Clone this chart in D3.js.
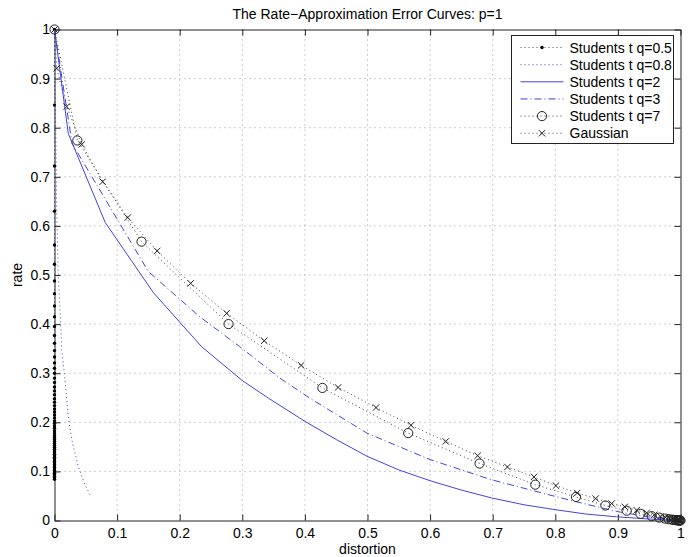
<!DOCTYPE html>
<html>
<head>
<meta charset="utf-8">
<script src="https://cdn.jsdelivr.net/npm/d3@7"></script>
<style>
  body { margin: 0; background: #fff; }
  svg text { font-family: "Liberation Sans", Arial, sans-serif; font-size: 14px; fill: #000; }
</style>
</head>
<body>
<svg id="chart"></svg>
<script>
// tick values for both axes
const xTicks = [0, 0.1, 0.2, 0.3, 0.4, 0.5, 0.6, 0.7, 0.8, 0.9, 1];
const yTicks = [0, 0.1, 0.2, 0.3, 0.4, 0.5, 0.6, 0.7, 0.8, 0.9, 1];

const seriesNames = ['Students t q=0.5', 'Students t q=0.8', 'Students t q=2',
  'Students t q=3', 'Students t q=7', 'Gaussian'];

// [distortion, rate]
const q05Points = [[0, 1], [0, 0.846], [0, 0.722], [0, 0.630], [0, 0.561], [0, 0.522], [0, 0.488],
  [0, 0.462], [0, 0.437], [0, 0.415], [0, 0.395], [0, 0.377], [0, 0.361], [0, 0.346], [0, 0.333],
  [0, 0.321], [0, 0.310], [0, 0.300], [0, 0.290], [0, 0.281], [0, 0.272], [0, 0.264], [0, 0.256],
  [0, 0.248], [0, 0.241], [0, 0.234], [0, 0.227], [0, 0.221], [0, 0.215], [0, 0.209], [0, 0.203],
  [0, 0.198], [0, 0.193], [0, 0.188], [0, 0.183], [0, 0.178], [0, 0.173], [0, 0.169], [0, 0.165],
  [0, 0.161], [0, 0.157], [0, 0.153], [0, 0.149], [0, 0.145], [0, 0.142], [0, 0.138], [0, 0.135],
  [0, 0.132], [0, 0.129], [0, 0.126], [0, 0.123], [0, 0.120], [0, 0.117], [0, 0.114], [0, 0.111],
  [0, 0.108], [0, 0.105], [0, 0.102], [0, 0.099], [0, 0.096], [0, 0.093], [0, 0.090], [0, 0.087],
  [0, 0.084]];

const q08Points = [[0, 1], [0.001, 0.9], [0.002, 0.8], [0.003, 0.7], [0.0035, 0.63], [0.006, 0.5],
  [0.0099, 0.4], [0.0115, 0.348], [0.0168, 0.287], [0.022, 0.212], [0.0275, 0.165], [0.038, 0.11],
  [0.048, 0.075], [0.057, 0.052]];

const q2Points = [[0, 1], [0.022, 0.788], [0.081, 0.607], [0.158, 0.464], [0.235, 0.354],
  [0.30, 0.285], [0.342, 0.249], [0.40, 0.202], [0.45, 0.165], [0.499, 0.131], [0.55, 0.103],
  [0.60, 0.081], [0.65, 0.062], [0.698, 0.046], [0.75, 0.032], [0.80, 0.022], [0.85, 0.013],
  [0.898, 0.0075], [0.95, 0.003], [1, 0]];

const q3Points = [[0, 1], [0.028, 0.768], [0.15, 0.507], [0.232, 0.415], [0.296, 0.354],
  [0.36, 0.29], [0.408, 0.249], [0.499, 0.178], [0.6, 0.124], [0.698, 0.083], [0.80, 0.049],
  [0.85, 0.033], [0.9, 0.018], [0.95, 0.007], [1, 0]];

const q7Points = [[0, 1], [0.0365, 0.774], [0.139, 0.568], [0.278, 0.40], [0.428, 0.27],
  [0.565, 0.178], [0.679, 0.116], [0.768, 0.073], [0.833, 0.048], [0.88, 0.0305], [0.914, 0.020],
  [0.936, 0.0136], [0.954, 0.0088], [0.966, 0.0058], [0.975, 0.0038], [0.981, 0.0026],
  [0.986, 0.0018], [0.989, 0.0012], [0.992, 0.0008], [0.994, 0.0005], [0.996, 0.0003],
  [0.997, 0.0002], [0.998, 0.0001], [0.999, 0.00005], [1, 0]];

const gaussPoints = [[0, 1], [0.0035, 0.921], [0.0195, 0.843], [0.0435, 0.766], [0.077, 0.69],
  [0.117, 0.617], [0.164, 0.549], [0.2175, 0.483], [0.275, 0.422], [0.335, 0.366], [0.394, 0.316],
  [0.453, 0.271], [0.5136, 0.230], [0.5695, 0.194], [0.625, 0.161], [0.676, 0.132], [0.7235, 0.109],
  [0.766, 0.0888], [0.801, 0.071], [0.835, 0.056], [0.8645, 0.0447], [0.89, 0.0345], [0.911, 0.0278],
  [0.93, 0.021], [0.946, 0.0156], [0.958, 0.0115], [0.968, 0.0085], [0.976, 0.006], [0.982, 0.0043],
  [0.987, 0.003], [0.991, 0.002], [0.994, 0.0013], [0.996, 0.0008], [0.998, 0.0004], [1, 0]];

const seriesPoints = [q05Points, q08Points, q2Points, q3Points, q7Points, gaussPoints];

class RateChart {

  constructor(_config) {
    this.config = {
      parentElement: _config.parentElement,
      containerWidth: _config.containerWidth || 692,
      containerHeight: _config.containerHeight || 557,
    };
    this.config.margin = _config.margin || { top: 29.5, right: 11.5, bottom: 36.5, left: 54.5 };

    this.initVis();
  }

  initVis() {
    let vis = this;

    vis.width = vis.config.containerWidth - vis.config.margin.left - vis.config.margin.right;
    vis.height = vis.config.containerHeight - vis.config.margin.top - vis.config.margin.bottom;

    vis.xScale = d3.scaleLinear().domain([0, 1]).range([0, vis.width]);
    vis.yScale = d3.scaleLinear().domain([0, 1]).range([vis.height, 0]);

    vis.line = d3.line()
      .x(d => vis.xScale(d[0]))
      .y(d => vis.yScale(d[1]));

    // look of every series, same order as seriesNames
    const blue = '#4343e2';
    vis.styles = [
      { stroke: '#444', dash: '1,3', marker: 'dot' },
      { stroke: blue, dash: '1,3', marker: null },
      { stroke: blue, dash: null, marker: null },
      { stroke: blue, dash: '7,3,1,3', marker: null },
      { stroke: '#444', dash: '1,3', marker: 'circle' },
      { stroke: '#444', dash: '1,3', marker: 'cross' },
    ];

    const svg = d3.select(vis.config.parentElement)
      .attr('width', vis.config.containerWidth)
      .attr('height', vis.config.containerHeight);

    vis.svg = svg;
    vis.g = svg.append('g')
      .attr('transform', `translate(${vis.config.margin.left},${vis.config.margin.top})`);

    // dotted grid
    const inner = xTicks.filter(t => t > 0 && t < 1);
    vis.g.append('g').selectAll('line.vgrid').data(inner).join('line')
      .attr('x1', d => vis.xScale(d)).attr('x2', d => vis.xScale(d))
      .attr('y1', 0).attr('y2', vis.height)
      .attr('stroke', '#9a9a9a').attr('stroke-dasharray', '1,4');
    vis.g.append('g').selectAll('line.hgrid').data(yTicks.filter(t => t > 0 && t < 1)).join('line')
      .attr('x1', 0).attr('x2', vis.width)
      .attr('y1', d => vis.yScale(d)).attr('y2', d => vis.yScale(d))
      .attr('stroke', '#9a9a9a').attr('stroke-dasharray', '1,4');

    // axes, ticks pointing inward on all four sides
    const fmt = d => d3.format('')(d);
    const xAxis = vis.g.append('g')
      .attr('transform', `translate(0,${vis.height})`)
      .call(d3.axisBottom(vis.xScale).tickValues(xTicks).tickFormat(fmt)
        .tickSize(-6).tickSizeOuter(0).tickPadding(8));
    const yAxis = vis.g.append('g')
      .call(d3.axisLeft(vis.yScale).tickValues(yTicks).tickFormat(fmt)
        .tickSize(-6).tickSizeOuter(0).tickPadding(4.5));
    const topAxis = vis.g.append('g')
      .call(d3.axisTop(vis.xScale).tickValues(xTicks).tickFormat('')
        .tickSize(-6).tickSizeOuter(0));
    const rightAxis = vis.g.append('g')
      .attr('transform', `translate(${vis.width},0)`)
      .call(d3.axisRight(vis.yScale).tickValues(yTicks).tickFormat('')
        .tickSize(-6).tickSizeOuter(0));

    [xAxis, yAxis, topAxis, rightAxis].forEach(a => {
      a.selectAll('path.domain').attr('stroke', '#222');
      a.selectAll('.tick line').attr('stroke', '#222');
      a.selectAll('text').attr('font-size', 14).attr('font-family', null).attr('fill', '#000');
    });

    // title and axis labels
    svg.append('text')
      .attr('x', vis.config.margin.left + vis.width / 2)
      .attr('y', 19)
      .attr('text-anchor', 'middle')
      .text('The Rate\u2212Approximation Error Curves: p=1');
    svg.append('text')
      .attr('x', vis.config.margin.left + vis.width / 2)
      .attr('y', 554)
      .attr('text-anchor', 'middle')
      .text('distortion');
    svg.append('text')
      .attr('text-anchor', 'middle')
      .attr('transform', `translate(22,${vis.config.margin.top + vis.height / 2}) rotate(-90)`)
      .text('rate');
  }

  drawMarker(sel, type) {
    if (type === 'dot') {
      sel.append('circle').attr('r', 1.7).attr('fill', '#000');
    } else if (type === 'circle') {
      sel.append('circle').attr('r', 4.6).attr('fill', 'none')
        .attr('stroke', '#222').attr('stroke-width', 1);
    } else if (type === 'cross') {
      sel.append('path').attr('d', 'M-3.2,-3.2L3.2,3.2M-3.2,3.2L3.2,-3.2')
        .attr('stroke', '#222').attr('stroke-width', 1);
    }
  }

  render() {
    let vis = this;

    seriesPoints.forEach((pts, i) => {
      const st = vis.styles[i];
      vis.g.append('path')
        .datum(pts)
        .attr('d', vis.line)
        .attr('fill', 'none')
        .attr('stroke', st.stroke)
        .attr('stroke-width', 1)
        .attr('stroke-dasharray', st.dash);

      if (st.marker) {
        vis.g.append('g').selectAll('g').data(pts).join('g')
          .attr('transform', d => `translate(${vis.xScale(d[0])},${vis.yScale(d[1])})`)
          .each(function() { vis.drawMarker(d3.select(this), st.marker); });
      }
    });

    // legend box in upper right
    const legend = vis.svg.append('g').attr('transform', 'translate(511.5,35.5)');
    legend.append('rect')
      .attr('width', 162).attr('height', 108)
      .attr('fill', '#fff').attr('stroke', '#222');

    seriesNames.forEach((name, i) => {
      const st = vis.styles[i];
      const row = legend.append('g').attr('transform', `translate(0,${12 + i * 17.15})`);
      row.append('line')
        .attr('x1', 9).attr('x2', 52)
        .attr('stroke', st.stroke)
        .attr('stroke-dasharray', st.dash);
      if (st.marker) {
        const m = row.append('g').attr('transform', 'translate(30.5,0)');
        vis.drawMarker(m, st.marker);
      }
      row.append('text')
        .attr('x', 58)
        .attr('dy', '0.36em')
        .text(name);
    });
  }
}

const chart = new RateChart({ parentElement: '#chart' });
chart.render();
</script>
</body>
</html>
